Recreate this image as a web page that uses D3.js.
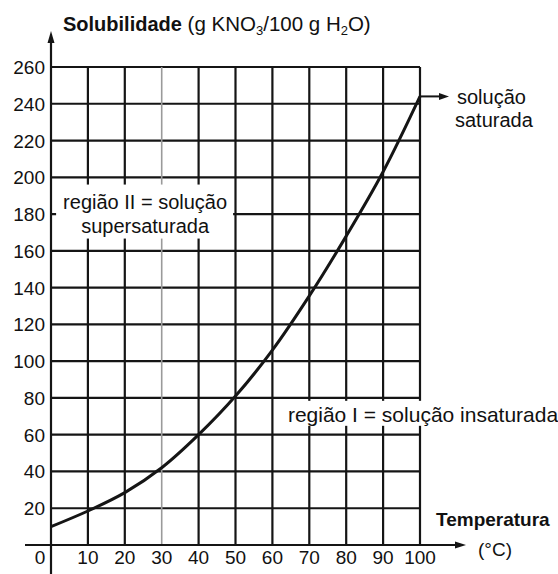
<!DOCTYPE html>
<html>
<head>
<meta charset="utf-8">
<script src="https://cdn.jsdelivr.net/npm/d3@7"></script>
<style>
  html, body { margin: 0; padding: 0; background: #fff; }
  svg { display: block; }
  text { font-family: "Liberation Sans", Arial, Helvetica, sans-serif; fill: #111; }
</style>
</head>
<body>
<svg id="chart" width="558" height="574"></svg>
<script>
// Solubility of KNO3 in water (g per 100 g H2O) against temperature (°C)
const temperatures = [0, 10, 20, 30, 40, 50, 60, 70, 80, 90, 100];
const solubility   = [10, 18.5, 28.5, 42, 60, 81, 106, 135.5, 168, 203, 244];

const xTicks = [10, 20, 30, 40, 50, 60, 70, 80, 90, 100];
const yTicks = [20, 40, 60, 80, 100, 120, 140, 160, 180, 200, 220, 240, 260];
const lightTicks = [30];   // the 30 °C gridline is printed lighter

const svg = d3.select("#chart");
const W = 558, H = 574;

const x = d3.scaleLinear().domain([0, 100]).range([51, 420]);
const y = d3.scaleLinear().domain([0, 260]).range([545, 67]);

const ink = "#151515";

// grid
const grid = svg.append("g");
grid.selectAll("line.h").data(yTicks).join("line")
  .attr("x1", x(0)).attr("x2", x(100))
  .attr("y1", d => y(d)).attr("y2", d => y(d))
  .attr("stroke", ink).attr("stroke-width", 2.2);
grid.selectAll("line.v").data(xTicks).join("line")
  .attr("x1", d => x(d)).attr("x2", d => x(d))
  .attr("y1", y(0)).attr("y2", y(260))
  .attr("stroke", d => lightTicks.includes(d) ? "#9a9a9a" : ink)
  .attr("stroke-width", d => lightTicks.includes(d) ? 1.6 : 2.2);

// axes with arrow heads
const axes = svg.append("g");
axes.append("line")
  .attr("x1", x(0)).attr("x2", x(0))
  .attr("y1", H).attr("y2", 40)
  .attr("stroke", ink).attr("stroke-width", 2.2);
axes.append("path")
  .attr("d", d3.line()([[x(0) - 3.5, 43], [x(0), 31], [x(0) + 3.5, 43]]) + "Z")
  .attr("fill", ink);
axes.append("line")
  .attr("x1", 25).attr("x2", 456)
  .attr("y1", y(0)).attr("y2", y(0))
  .attr("stroke", ink).attr("stroke-width", 2.2);
axes.append("path")
  .attr("d", d3.line()([[455, y(0) - 3.5], [466, y(0)], [455, y(0) + 3.5]]) + "Z")
  .attr("fill", ink);

// tick labels
svg.append("g").selectAll("text").data(yTicks).join("text")
  .attr("x", x(0) - 6).attr("y", d => y(d) + 7)
  .attr("text-anchor", "end")
  .style("font-size", "19px")
  .text(d => d);
svg.append("g").selectAll("text").data(xTicks).join("text")
  .attr("x", d => x(d)).attr("y", y(0) + 19)
  .attr("text-anchor", "middle")
  .style("font-size", "19px")
  .text(d => d);
svg.append("text")
  .attr("x", x(0) - 11).attr("y", y(0) + 19)
  .attr("text-anchor", "middle")
  .style("font-size", "19px")
  .text("0");

// solubility curve
const curvePts = temperatures.map((t, i) => [x(t), y(solubility[i])]);
svg.append("path")
  .attr("d", d3.line().curve(d3.curveCatmullRom.alpha(0.5))(curvePts))
  .attr("fill", "none").attr("stroke", ink).attr("stroke-width", 3);

// region labels on white patches
function patchLabel(lines, anchor, cx, cy, lineGap, size, pad) {
  const g = svg.append("g");
  const bg = g.append("rect").attr("fill", "#fff");
  const t = g.append("text")
    .attr("text-anchor", anchor)
    .style("font-size", size + "px");
  lines.forEach((s, i) => {
    t.append("tspan").attr("x", cx).attr("y", cy + i * lineGap).text(s);
  });
  const b = t.node().getBBox();
  bg.attr("x", b.x - pad[3]).attr("y", b.y - pad[0])
    .attr("width", b.width + pad[1] + pad[3])
    .attr("height", b.height + pad[0] + pad[2]);
}
patchLabel(["região II = solução", "supersaturada"], "middle",
  x(25.5), y(183), 24, 20, [6, 6, 2, 7]);
patchLabel(["região I = solução insaturada"], "start",
  x(64.2), y(67), 0, 21, [2, 2, 0, 8]);

// saturation pointer
const last = curvePts[curvePts.length - 1];
svg.append("line")
  .attr("x1", last[0]).attr("x2", 440)
  .attr("y1", last[1]).attr("y2", last[1])
  .attr("stroke", ink).attr("stroke-width", 2);
svg.append("path")
  .attr("d", d3.line()([[439, last[1] - 3.5], [449, last[1]], [439, last[1] + 3.5]]) + "Z")
  .attr("fill", ink);
const sat = svg.append("text").style("font-size", "20px");
sat.append("tspan").attr("x", 457).attr("y", 104).text("solução");
sat.append("tspan").attr("x", 455).attr("y", 127).text("saturada");

// axis titles
const title = svg.append("text").attr("x", 63).attr("y", 31).style("font-size", "20.5px");
title.append("tspan").style("font-weight", "bold").style("font-size", "20px").text("Solubilidade");
title.append("tspan").text(" (g KNO");
title.append("tspan").attr("dy", 4).style("font-size", "13px").text("3");
title.append("tspan").attr("dy", -4).text("/100 g H");
title.append("tspan").attr("dy", 4).style("font-size", "13px").text("2");
title.append("tspan").attr("dy", -4).text("O)");

svg.append("text").attr("x", 436).attr("y", 526)
  .style("font-size", "19px").style("font-weight", "bold").text("Temperatura");
svg.append("text").attr("x", 478).attr("y", 556)
  .style("font-size", "19px").text("(°C)");
</script>
</body>
</html>
